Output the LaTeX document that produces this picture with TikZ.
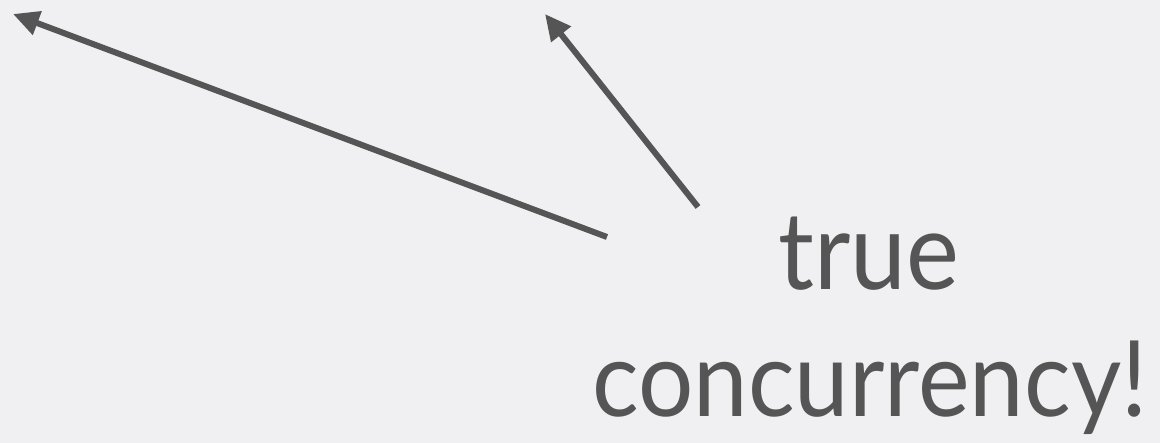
\documentclass[tikz,border=0pt]{standalone}
\usepackage{fontspec}
\setmainfont{Lato}
\usetikzlibrary{arrows.meta}
\definecolor{bg}{HTML}{F0F0F2}
\definecolor{ink}{HTML}{555555}
\tikzset{
  pointer/.style={draw=ink, line width=6pt, -{Triangle[length=26pt,width=24pt]}},
  label/.style={text=ink, inner sep=0pt, anchor=base, font=\fontsize{100}{100}\selectfont}
}
\begin{document}
\begin{tikzpicture}[x=1pt,y=-1pt]
\fill[bg] (0,0) rectangle (1160,443);
\useasboundingbox (0,0) rectangle (1160,443);
\coordinate (tipA) at (13,14);
\coordinate (tailA) at (607,237);
\coordinate (tipB) at (545,14);
\coordinate (tailB) at (698,207);
\node[label] (t1) at (869,290) {\scalebox{1}[1.08]{\resizebox{181pt}{!}{true}}};
\node[label] (t2) at (870,417) {\scalebox{1}[1.08]{\resizebox{555pt}{!}{concurrency!}}};
\draw[pointer] (tailA) -- (tipA);
\draw[pointer] (tailB) -- (tipB);
\end{tikzpicture}
\end{document}
